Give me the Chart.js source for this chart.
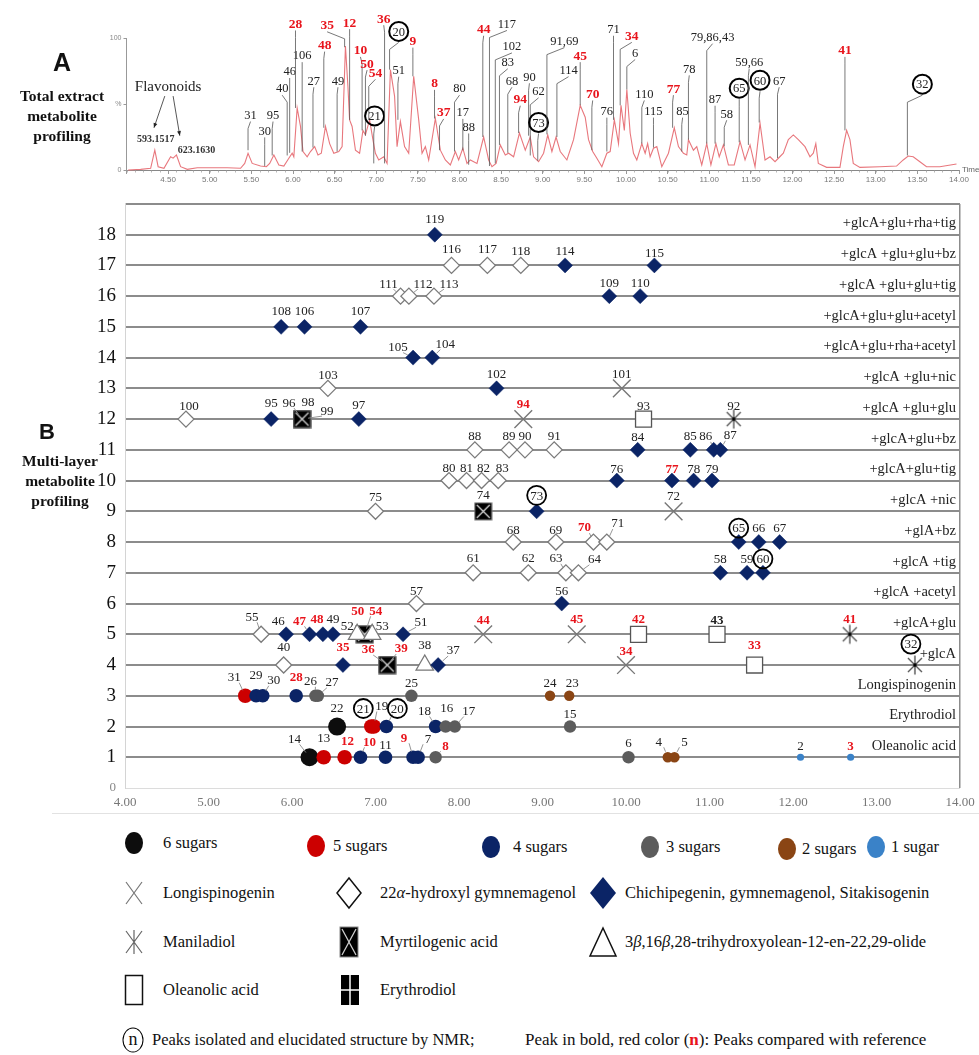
<!DOCTYPE html>
<html>
<head>
<meta charset="utf-8">
<script src="https://cdn.jsdelivr.net/npm/chart.js@4.4.1/dist/chart.umd.min.js"></script>
<style>
  html, body { margin: 0; padding: 0; background: #fff; }
  #page { position: relative; width: 979px; height: 1055px; overflow: hidden; font-family: 'Liberation Serif', serif; color: #111; }
  canvas { position: absolute; left: 0; }
  #chartA { top: 0; }
  #chartB { top: 190px; }
  .abs { position: absolute; white-space: nowrap; }
  .panel { font-family: 'Liberation Sans', Arial, sans-serif; font-weight: bold; transform: translate(-50%, -50%); }
  .side { font-weight: bold; font-size: 15.5px; text-align: center; line-height: 20px; transform: translateX(-50%); }
  .leg { font-size: 16.5px; transform: translateY(-50%); }
  .nmr { width: 19px; height: 23px; border: 1.6px solid #000; border-radius: 50%; text-align: center; line-height: 21px; font-size: 18px; transform: translate(-50%, -50%); }
</style>
</head>
<body>
<div id="page">
  <canvas id="chartA" width="979" height="190"></canvas>
  <canvas id="chartB" width="979" height="625"></canvas>

  <div class="abs panel" style="left:62px;top:62px;font-size:25px">A</div>
  <div class="abs side" style="left:62px;top:86px">Total extract<br>metabolite<br>profiling</div>
  <div class="abs panel" style="left:47px;top:432px;font-size:22px">B</div>
  <div class="abs side" style="left:60px;top:451px">Multi-layer<br>metabolite<br>profiling</div>
  <div class="abs" style="left:52px;top:813px;width:927px;height:1px;background:#e2e2e2"></div>

  <div id="legend"></div>
</div>

<script>
// ---------- Panel A: total extract chromatogram ----------
const chromTime = [4.02,4.17,4.29,4.34,4.38,4.45,4.53,4.56,4.60,4.65,4.73,4.85,5.05,5.21,5.37,5.42,5.46,5.51,5.61,5.68,
  5.72,5.77,5.83,5.89,5.95,5.99,6.01,6.05,6.09,6.12,6.17,6.21,6.26,6.30,6.34,6.39,6.44,6.49,6.55,6.59,
  6.63,6.66,6.68,6.71,6.75,6.80,6.84,6.87,6.92,6.96,6.99,7.03,7.09,7.13,7.17,7.22,7.25,7.29,7.34,7.39,
  7.45,7.51,7.55,7.59,7.63,7.71,7.77,7.83,7.89,7.95,7.99,8.04,8.09,8.13,8.21,8.29,8.35,8.39,8.44,8.49,
  8.55,8.59,8.65,8.72,8.79,8.85,8.89,8.95,9.01,9.06,9.11,9.16,9.21,9.29,9.37,9.45,9.51,9.55,9.60,9.65,
  9.71,9.77,9.81,9.86,9.91,9.94,9.98,10.01,10.05,10.09,10.13,10.19,10.23,10.26,10.29,10.33,10.37,10.43,10.51,10.58,
  10.63,10.69,10.73,10.75,10.81,10.85,10.91,10.97,11.02,11.08,11.12,11.17,11.23,11.30,11.37,11.43,11.49,11.55,11.61,11.67,
  11.73,11.79,11.83,11.89,11.95,12.01,12.07,12.15,12.21,12.25,12.28,12.31,12.41,12.57,12.61,12.65,12.69,12.73,12.81,13.05,
  13.25,13.33,13.39,13.45,13.53,13.61,13.77,13.97];
const chromIntensity = [0,0.5,1.3,15,2.5,1.3,10,9,11.4,2.5,0.5,1.7,1.7,1.7,1.3,5,12.7,5,3,2.5,
  5,11.4,3.8,3,8.9,12.7,10,47,33,14,10,14,17.7,11.4,12.7,33,20,12.7,14,17.7,
  94,63,38,33,15,12.7,30,26.6,38,23,12.7,7.6,10,5,76,56,17.7,36.7,17.7,12.7,
  71,38,12.7,17.7,7.6,39,15,7.6,3.8,14,7.6,16.5,5,7.6,5,25,7.6,2.5,5,19,
  11.4,12.7,10,28,15,25,10,6.3,12.7,26.6,14,25,14,7.6,23,49,40,23,14,8.9,
  2.5,12.7,14,38,20,49,30,61,28,12.7,7.6,20,12.7,20,10,16.5,17.7,2.5,12.7,32,
  17.7,12.7,11.4,23,15,17.7,3.8,20,3.8,20,10,19,3.8,3.8,21.5,7.6,19,2.5,35.5,7.6,
  10,6.3,8.9,12.7,23,26.6,23,17.7,10,12.7,20,5,2,2,17.7,30,23,5,2,2.5,
  3,7.6,10.6,10,6.3,2.5,2.5,4.5];
const chromYTicks = [0, 50, 100];

// peak callouts: [text, label time, label level, peak time, peak level]
const peakCallouts = [
  ['31',5.49,42,5.46,15], ['30',5.66,30,5.66,3], ['95',5.76,42,5.75,11], ['40',5.87,62,5.93,11],
  ['46',5.96,75,5.96,13], ['106',6.11,87,6.11,14], ['28',6.03,111,6.03,47], ['27',6.25,68,6.24,17],
  ['48',6.38,95,6.37,32], ['49',6.54,68,6.53,14], ['35',6.41,110,6.62,93], ['12',6.68,112,6.68,38],
  ['10',6.81,91,6.83,30], ['50',6.89,81,6.87,26], ['54',6.99,74,6.91,38], ['21',6.98,41,6.97,5],
  ['36',7.09,115,7.10,5], ['20',7.27,105,7.16,76], ['51',7.27,76,7.26,38], ['9',7.44,98,7.44,71],
  ['8',7.70,66,7.70,39], ['37',7.81,44,7.76,15], ['80',8.00,62,7.94,14], ['17',8.04,44,8.04,15],
  ['88',8.11,33,8.11,4], ['44',8.29,107,8.28,25], ['117',8.57,111,8.36,3], ['102',8.63,94,8.43,5],
  ['83',8.58,82,8.48,19], ['68',8.63,68,8.58,13], ['94',8.73,54,8.71,28], ['90',8.84,71,8.83,26],
  ['62',8.95,60,8.85,11], ['73',8.95,36,8.94,7], ['91,69',9.26,98,9.05,27], ['114',9.31,76,9.17,25],
  ['45',9.45,87,9.45,49], ['70',9.60,58,9.59,15], ['76',9.77,45,9.77,14], ['71',9.85,107,9.85,38],
  ['34',10.07,102,9.93,49], ['6',10.11,89,10.01,61], ['110',10.22,58,10.19,20], ['115',10.33,45,10.33,17],
  ['77',10.57,62,10.56,32], ['85',10.68,45,10.67,14], ['78',10.76,77,10.75,23], ['79,86,43',11.04,101,10.97,20],
  ['87',11.07,54,11.07,20], ['58',11.21,43,11.18,18], ['65',11.36,62,11.36,21], ['59,66',11.48,82,11.47,19],
  ['60',11.61,68,11.60,36], ['67',11.84,68,11.82,9], ['41',12.63,91,12.63,30], ['32',13.56,65,13.38,11]
];
const refPeaksA = ['28','35','12','48','10','50','54','36','9','8','37','44','94','45','70','34','77','41'];
const nmrPeaks = ['21','20','73','65','60','32'];

// ---------- Panel B: compounds by retention time and aglycone layer ----------
// [compound no., retention time, layer]
const sugar6 = [[14,6.21,1],[22,6.54,2]];
const sugar5 = [[13,6.38,1],[12,6.63,1],[21,6.95,2],[19,6.98,2],[31,5.44,3]];
const sugar4 = [[10,6.82,1],[11,7.12,1],[9,7.45,1],[7,7.51,1],[20,7.13,2],[18,7.72,2],[29,5.57,3],[30,5.65,3],[28,6.05,3]];
const sugar3 = [[8,7.72,1],[6,10.03,1],[16,7.84,2],[17,7.95,2],[15,9.33,2],[26,6.28,3],[27,6.31,3],[25,7.43,3]];
const sugar2 = [[4,10.50,1],[5,10.58,1],[24,9.09,3],[23,9.32,3]];
const sugar1 = [[2,12.09,1],[3,12.69,1]];
const longispinogenin = [[101,9.95,13],[94,8.77,12],[72,10.57,9],[44,8.29,5],[45,9.41,5],[34,10.00,4]];
const hydroxyGymnemagenol = [[116,7.91,17],[117,8.34,17],[118,8.74,17],[111,7.30,16],[112,7.40,16],[113,7.70,16],
  [103,6.43,13],[100,4.73,12],[88,8.19,11],[89,8.60,11],[90,8.79,11],[91,9.14,11],[80,7.88,10],[81,8.09,10],
  [82,8.27,10],[83,8.47,10],[75,7.00,9],[68,8.65,8],[69,9.16,8],[70,9.61,8],[71,9.77,8],[61,8.17,7],[62,8.83,7],
  [63,9.28,7],[64,9.43,7],[57,7.49,6],[55,5.63,5],[40,5.90,4]];
const chichipegenin = [[119,7.71,18],[114,9.27,17],[115,10.34,17],[109,9.80,16],[110,10.17,16],[108,5.87,15],
  [106,6.15,15],[107,6.82,15],[105,7.45,14],[104,7.68,14],[102,8.45,13],[95,5.75,12],[97,6.80,12],[84,10.14,11],
  [85,10.77,11],[86,11.05,11],[87,11.13,11],[76,9.89,10],[77,10.55,10],[78,10.81,10],[79,11.03,10],[73,8.93,9],
  [65,11.35,8],[66,11.59,8],[67,11.84,8],[58,11.13,7],[59,11.45,7],[60,11.64,7],[56,9.23,6],[46,5.93,5],
  [47,6.21,5],[48,6.37,5],[49,6.49,5],[51,7.33,5],[35,6.61,4],[37,7.75,4]];
const maniladiol = [[92,11.29,12],[41,12.68,5],[32,13.46,4]];
const myrtilogenic = [[96,6.12,12],[98,6.12,12],[99,6.12,12],[74,8.29,9],[50,6.87,5],[54,6.87,5],[36,7.14,4],[39,7.14,4]];
const trihydroxyolide = [[52,6.78,5],[53,6.96,5],[38,7.59,4]];
const oleanolic = [[93,10.21,12],[42,10.15,5],[43,11.09,5],[33,11.54,4]];

const layerLabels = ['Oleanolic acid','Erythrodiol','Longispinogenin','+glcA','+glcA+glu','+glcA +acetyl','+glcA +tig',
  '+glA+bz','+glcA +nic','+glcA+glu+tig','+glcA+glu+bz','+glcA +glu+glu','+glcA +glu+nic','+glcA+glu+rha+acetyl',
  '+glcA+glu+glu+acetyl','+glcA +glu+glu+tig','+glcA +glu+glu+bz','+glcA+glu+rha+tig'];
const layerTicks = [0,1,2,3,4,5,6,7,8,9,10,11,12,13,14,15,16,17,18];
const timeTicks = [4,5,6,7,8,9,10,11,12,13,14];
const refPeaksB = [94,77,70,47,48,50,54,44,45,42,41,35,36,39,34,33,28,12,10,9,8,3];
const boldPeaksB = [43];
const nmrPeaksB = [73,65,60,32,21,20];

// label nudges in px: [dx, dy, leader line]
const labelNudge = {
  116:[0,-17],117:[0,-17],118:[0,-15],114:[0,-15],115:[0,-13],111:[-12,-13,1],112:[14,-13,1],113:[15,-13,1],
  109:[0,-14],110:[0,-14],105:[-15,-11,1],104:[13,-14,1],103:[0,-14],102:[0,-15],101:[0,-15],
  100:[3,-14],95:[0,-17],96:[-13,-17,1],98:[6,-18],99:[25,-9,1],97:[0,-15],94:[0,-15],93:[0,-14],92:[0,-14],
  88:[0,-14],89:[0,-14],90:[0,-14],91:[0,-14],84:[0,-13],85:[0,-14],86:[-8,-14,1],87:[10,-15,1],
  80:[0,-13],81:[0,-13],82:[2,-13],83:[4,-13],76:[0,-12],77:[0,-12],78:[0,-12],79:[0,-12],
  75:[0,-15],74:[0,-17],72:[0,-16],68:[0,-12],69:[0,-12],70:[-9,-15,1],71:[11,-19,1],65:[0,-14],66:[0,-14],67:[0,-14],
  61:[0,-15],62:[0,-15],63:[-10,-15,1],64:[16,-14,1],58:[0,-14],59:[0,-14],60:[0,-14],57:[0,-13],56:[0,-13],
  55:[-9,-18,1],46:[-8,-14],47:[-10,-14,1],48:[-6,-16],52:[-10,-9],50:[-7,-24],54:[11,-24,1],53:[10,-9,1],
  51:[18,-13,1],44:[0,-15],43:[0,-15],40:[0,-18],35:[0,-18],36:[-19,-16,1],39:[14,-17,1],38:[0,-20],37:[15,-15,1],
  34:[0,-14],33:[0,-20],32:[-4,-21],31:[-11,-19,1],29:[0,-21],30:[11,-16,1],28:[0,-19],26:[-5,-15,1],27:[14,-14,1],
  25:[0,-13],24:[0,-13],23:[3,-13],22:[0,-19],21:[-8,-18],19:[8,-21,1],20:[11,-18,1],18:[-11,-16,1],16:[1,-19],
  17:[14,-16,1],15:[0,-13],14:[-15,-19,1],13:[0,-20],12:[3,-17],10:[9,-16,1],11:[0,-13],9:[-9,-20,1],7:[10,-19,1],
  8:[10,-12,1],6:[0,-15],4:[-9,-16,1],5:[10,-16,1],2:[0,-12],3:[0,-12]
};

const SERIF = 'Liberation Serif';
Chart.defaults.font.family = SERIF;

// ---------- chart A ----------
const chromPlugin = {
  id: 'chromCallouts',
  afterDatasetsDraw(chart) {
    const { ctx, scales: { x, y } } = chart;
    ctx.save();
    // minor ticks along the time axis
    ctx.strokeStyle = '#999';
    ctx.lineWidth = 0.7;
    ctx.beginPath();
    for (let i = 0; i <= 100; i++) {
      const px = Math.round(x.getPixelForValue(4 + i / 10)) + 0.5;
      ctx.moveTo(px, y.bottom);
      ctx.lineTo(px, y.bottom + 2.5);
    }
    ctx.stroke();
    ctx.fillStyle = '#666';
    ctx.font = '8px "Liberation Sans"';
    ctx.textBaseline = 'middle';
    ctx.fillText('Time', x.right + 3, y.bottom);

    // flavonoid markers
    ctx.fillStyle = '#222';
    ctx.textAlign = 'center';
    ctx.font = '15px ' + SERIF;
    ctx.fillText('Flavonoids', x.getPixelForValue(4.50), y.getPixelForValue(63));
    const arrow = (t0, l0, t1, l1) => {
      const x0 = x.getPixelForValue(t0), y0 = y.getPixelForValue(l0);
      const x1 = x.getPixelForValue(t1), y1 = y.getPixelForValue(l1);
      const a = Math.atan2(y1 - y0, x1 - x0);
      ctx.strokeStyle = '#444'; ctx.lineWidth = 0.9;
      ctx.beginPath(); ctx.moveTo(x0, y0); ctx.lineTo(x1, y1); ctx.stroke();
      ctx.beginPath();
      ctx.moveTo(x1, y1);
      ctx.lineTo(x1 - 5 * Math.cos(a - 0.4), y1 - 5 * Math.sin(a - 0.4));
      ctx.lineTo(x1 - 5 * Math.cos(a + 0.4), y1 - 5 * Math.sin(a + 0.4));
      ctx.closePath(); ctx.fillStyle = '#222'; ctx.fill();
    };
    arrow(4.46, 56, 4.33, 32);
    arrow(4.56, 56, 4.64, 26);
    ctx.font = 'bold 10px ' + SERIF;
    ctx.fillStyle = '#333';
    ctx.fillText('593.1517', x.getPixelForValue(4.35), y.getPixelForValue(23));
    ctx.fillText('623.1630', x.getPixelForValue(4.84), y.getPixelForValue(15));

    peakCallouts.forEach(([text, lt, ll, pt, pl]) => {
      const lx = x.getPixelForValue(lt), ly = y.getPixelForValue(ll);
      const px = x.getPixelForValue(pt), py = y.getPixelForValue(pl);
      const circled = nmrPeaks.includes(text);
      const red = refPeaksA.includes(text);
      const gap = circled ? 11 : 7;
      ctx.strokeStyle = '#555';
      ctx.lineWidth = 0.8;
      ctx.beginPath();
      ctx.moveTo(lx, ly + gap);
      ctx.lineTo(px, ly + gap + 7);
      ctx.lineTo(px, py);
      ctx.stroke();
      ctx.font = red ? 'bold 13.5px ' + SERIF : '12.5px ' + SERIF;
      ctx.fillStyle = red ? '#e8141c' : '#222';
      ctx.fillText(text, lx, ly + 1);
      if (circled) {
        ctx.beginPath();
        ctx.arc(lx, ly, 9.5, 0, Math.PI * 2);
        ctx.strokeStyle = '#000';
        ctx.lineWidth = 2;
        ctx.stroke();
      }
    });
    ctx.restore();
  }
};

new Chart(document.getElementById('chartA'), {
  type: 'scatter',
  data: {
    datasets: [{
      data: chromTime.map((t, i) => ({ x: t, y: chromIntensity[i] })),
      showLine: true,
      borderColor: '#e8777d',
      borderWidth: 1.1,
      pointRadius: 0,
      tension: 0,
      clip: false
    }]
  },
  options: {
    responsive: false,
    animation: false,
    events: [],
    layout: { padding: { top: 38, right: 20, left: 0, bottom: 0 } },
    plugins: { legend: { display: false }, tooltip: { enabled: false } },
    scales: {
      x: {
        type: 'linear', min: 4, max: 14,
        ticks: { stepSize: 0.5, autoSkip: false, maxRotation: 0, padding: 1, color: '#777',
          font: { family: 'Liberation Sans', size: 8 },
          callback: v => v === 4 ? '' : v.toFixed(2) },
        grid: { drawOnChartArea: false, tickLength: 4, color: '#999' },
        border: { color: '#888' },
        afterFit: s => { s.height = 20; s.paddingLeft = 0; s.paddingRight = 0; }
      },
      y: {
        min: 0, max: 100,
        afterBuildTicks: s => { s.ticks = chromYTicks.map(v => ({ value: v })); },
        ticks: { color: '#888', padding: 2, font: { family: 'Liberation Sans', size: 7 },
          callback: v => v === 50 ? '%' : String(v) },
        grid: { drawOnChartArea: false, tickLength: 3, color: '#999' },
        border: { color: '#999' },
        afterFit: s => { s.width = 126.5; s.paddingTop = 0; s.paddingBottom = 0; }
      }
    }
  },
  plugins: [chromPlugin]
});

// ---------- chart B ----------
function makeSymbol(w, h, draw) {
  const c = document.createElement('canvas');
  c.width = w; c.height = h;
  draw(c.getContext('2d'));
  return c;
}
const maniladiolSymbol = makeSymbol(22, 22, g => {
  g.strokeStyle = '#555'; g.lineWidth = 1.4;
  g.beginPath();
  g.moveTo(4, 4); g.lineTo(18, 18);
  g.moveTo(18, 4); g.lineTo(4, 18);
  g.moveTo(11, 1.5); g.lineTo(11, 20.5);
  g.stroke();
  g.fillStyle = '#000';
  g.beginPath(); g.arc(11, 11, 1.7, 0, Math.PI * 2); g.fill();
});
const myrtilogenicSymbol = makeSymbol(19, 19, g => {
  g.fillStyle = '#000'; g.fillRect(1, 1, 17, 17);
  g.strokeStyle = '#777'; g.lineWidth = 1; g.strokeRect(1, 1, 17, 17);
  g.strokeStyle = '#ddd'; g.lineWidth = 1.2;
  g.beginPath(); g.moveTo(3, 3); g.lineTo(16, 16); g.moveTo(16, 3); g.lineTo(3, 16); g.stroke();
});

const toPoints = arr => arr.map(([id, t, layer]) => ({ x: t, y: layer, id }));
const series = (data, style) => Object.assign({ data: toPoints(data), clip: false }, style);

const datasetsB = [
  series(hydroxyGymnemagenol, { pointStyle: 'rectRot', pointRadius: 8, backgroundColor: '#fff', borderColor: '#7a7a7a', borderWidth: 1.3 }),
  series(chichipegenin, { pointStyle: 'rectRot', pointRadius: 7.5, backgroundColor: '#0b2466', borderColor: '#0b2466', borderWidth: 0.5 }),
  series(longispinogenin, { pointStyle: 'crossRot', pointRadius: 12.5, borderColor: '#777', borderWidth: 1.4 }),
  series(maniladiol, { pointStyle: maniladiolSymbol }),
  series(oleanolic, { pointStyle: 'rect', pointRadius: 11.3, backgroundColor: '#fff', borderColor: '#555', borderWidth: 1.3 }),
  series(trihydroxyolide, { pointStyle: 'triangle', pointRadius: 10, backgroundColor: '#fff', borderColor: '#777', borderWidth: 1.3 }),
  series(myrtilogenic, { pointStyle: myrtilogenicSymbol }),
  series(sugar1, { pointStyle: 'circle', pointRadius: 3.6, backgroundColor: '#3a82c8', borderWidth: 0 }),
  series(sugar2, { pointStyle: 'circle', pointRadius: 5.2, backgroundColor: '#8a4514', borderWidth: 0 }),
  series(sugar3, { pointStyle: 'circle', pointRadius: 6.2, backgroundColor: '#5c5c5c', borderWidth: 0 }),
  series(sugar4, { pointStyle: 'circle', pointRadius: 6.8, backgroundColor: '#0b2466', borderWidth: 0 }),
  series(sugar5, { pointStyle: 'circle', pointRadius: 7.3, backgroundColor: '#cc0000', borderWidth: 0 }),
  series(sugar6, { pointStyle: 'circle', pointRadius: 9, backgroundColor: '#0d0d0d', borderWidth: 0 })
];

const labelPlugin = {
  id: 'compoundLabels',
  afterDatasetsDraw(chart) {
    const { ctx, scales: { x, y } } = chart;
    ctx.save();
    ctx.textBaseline = 'middle';
    ctx.textAlign = 'right';
    ctx.font = '14.5px ' + SERIF;
    ctx.fillStyle = '#222';
    layerLabels.forEach((t, i) => ctx.fillText(t, x.right - 4, y.getPixelForValue(i + 1) - 11));

    ctx.textAlign = 'center';
    chart.data.datasets.forEach(ds => ds.data.forEach(p => {
      const px = x.getPixelForValue(p.x), py = y.getPixelForValue(p.y);
      const [dx, dy, lead] = labelNudge[p.id] || [0, -16, 0];
      const lx = px + dx, ly = py + dy;
      const circled = nmrPeaksB.includes(p.id);
      if (lead) {
        const sx = lx - Math.sign(dx) * 5, sy = ly + 6;
        const len = Math.hypot(sx - px, sy - py) || 1;
        ctx.strokeStyle = '#8a8a8a';
        ctx.lineWidth = 0.9;
        ctx.beginPath();
        ctx.moveTo(sx, sy);
        ctx.lineTo(px + (sx - px) / len * 6, py + (sy - py) / len * 6);
        ctx.stroke();
      }
      const red = refPeaksB.includes(p.id), bold = boldPeaksB.includes(p.id);
      ctx.font = (red || bold ? 'bold 13px ' : '13px ') + SERIF;
      ctx.fillStyle = red ? '#e8141c' : '#222';
      ctx.fillText(String(p.id), lx, ly + 1);
      if (circled) {
        ctx.beginPath();
        ctx.arc(lx, ly, 9.5, 0, Math.PI * 2);
        ctx.strokeStyle = '#000';
        ctx.lineWidth = 1.8;
        ctx.stroke();
      }
    }));
    ctx.restore();
  }
};

new Chart(document.getElementById('chartB'), {
  type: 'scatter',
  data: { datasets: datasetsB },
  options: {
    responsive: false,
    animation: false,
    events: [],
    layout: { padding: { top: 3, right: 19, left: 0, bottom: 0 } },
    plugins: { legend: { display: false }, tooltip: { enabled: false } },
    scales: {
      x: {
        type: 'linear', min: 4, max: 14,
        afterBuildTicks: s => { s.ticks = timeTicks.map(v => ({ value: v })); },
        ticks: { color: '#777', padding: 7, maxRotation: 0, autoSkip: false,
          font: { family: SERIF, size: 13 }, callback: v => v.toFixed(2) },
        grid: { drawTicks: false, lineWidth: 1.5, color: c => c.tick && c.tick.value === 14 ? '#8c8c8c' : 'rgba(0,0,0,0)' },
        border: { display: false },
        afterFit: s => { s.height = 27; s.paddingLeft = 0; s.paddingRight = 0; }
      },
      y: {
        min: 0, max: 19,
        afterBuildTicks: s => { s.ticks = layerTicks.concat([19]).map(v => ({ value: v })); },
        ticks: {
          padding: 9,
          color: c => c.tick && c.tick.value === 0 ? '#888' : '#111',
          font: c => ({ family: SERIF, size: c.tick && c.tick.value === 0 ? 13 : 19 }),
          callback: v => v > 18 ? '' : String(v)
        },
        grid: { drawTicks: false,
          lineWidth: c => c.tick && c.tick.value === 0 ? 1 : 2,
          color: c => c.tick && c.tick.value === 0 ? '#dcdcdc' : '#8c8c8c' },
        border: { color: '#d4d4d4', width: 1 },
        afterFit: s => { s.width = 125; s.paddingTop = 0; s.paddingBottom = 0; }
      }
    }
  },
  plugins: [labelPlugin]
});

// ---------- legend ----------
const legend = document.getElementById('legend');
function icon(cx, cy, w, h, inner) {
  legend.insertAdjacentHTML('beforeend',
    `<svg class="abs" style="left:${cx - w / 2}px;top:${cy - h / 2}px" width="${w}" height="${h}">${inner}</svg>`);
}
function text(x, y, html, extra) {
  legend.insertAdjacentHTML('beforeend', `<div class="abs leg" style="left:${x}px;top:${y}px;${extra || ''}">${html}</div>`);
}
const sugarLegend = [['6 sugars', '#0d0d0d', 134, 843, 163], ['5 sugars', '#cc0000', 316, 846, 333],
  ['4 sugars', '#0b2466', 491, 847, 513], ['3 sugars', '#5c5c5c', 650, 847, 666],
  ['2 sugars', '#8a4514', 787, 849, 802], ['1 sugar', '#3a82c8', 876, 847, 891]];
sugarLegend.forEach(([label, col, cx, cy, tx]) => {
  icon(cx, cy, 20, 24, `<ellipse cx="10" cy="12" rx="9" ry="11" fill="${col}"/>`);
  text(tx, cy, label);
});
icon(134, 893, 20, 26, '<path d="M2 2 L18 24 M18 2 L2 24" stroke="#777" stroke-width="1.2" fill="none"/>');
text(163, 893, 'Longispinogenin');
icon(349, 893, 28, 34, '<path d="M14 2 L26 17 L14 32 L2 17 Z" stroke="#111" stroke-width="1.5" fill="#fff"/>');
text(380, 893, '22<i>α</i>-hydroxyl gymnemagenol');
icon(603, 893, 28, 34, '<path d="M14 1 L27 17 L14 33 L1 17 Z" fill="#0b2466"/>');
text(625, 893, 'Chichipegenin, gymnemagenol, Sitakisogenin');
icon(134, 942, 20, 26, '<path d="M2 2 L18 24 M18 2 L2 24 M10 1 L10 25" stroke="#666" stroke-width="1.2" fill="none"/>');
text(163, 942, 'Maniladiol');
icon(349, 942, 20, 32, '<rect x="1" y="1" width="18" height="30" fill="#000" stroke="#888"/><path d="M3 3 L17 29 M17 3 L3 29" stroke="#ccc" stroke-width="1.3"/>');
text(380, 942, 'Myrtilogenic acid');
icon(603, 942, 30, 32, '<path d="M15 2 L28 30 L2 30 Z" stroke="#111" stroke-width="1.5" fill="#fff"/>');
text(625, 942, '3<i>β</i>,16<i>β</i>,28-trihydroxyolean-12-en-22,29-olide');
icon(134, 990, 20, 32, '<rect x="1.5" y="1.5" width="17" height="29" stroke="#111" stroke-width="1.5" fill="#fff"/>');
text(163, 990, 'Oleanolic acid');
icon(350, 990, 20, 32, '<rect x="1" y="1" width="18" height="30" fill="#000"/><path d="M10 1 L10 31 M1 16 L19 16" stroke="#fff" stroke-width="1.5"/>');
text(380, 990, 'Erythrodiol');
legend.insertAdjacentHTML('beforeend', '<div class="abs nmr" style="left:133px;top:1040px">n</div>');
text(152, 1040, 'Peaks isolated and elucidated structure by NMR;');
text(525, 1040, 'Peak in bold, red color (<b style="color:#e8141c">n</b>): Peaks compared with reference', 'font-size:17px');
</script>
</body>
</html>
